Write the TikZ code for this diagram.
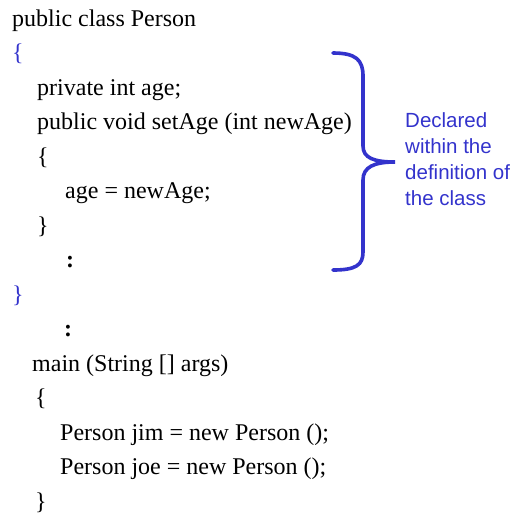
\documentclass[tikz,border=0pt]{standalone}
\usepackage{fontspec}
\setmainfont{Liberation Serif}
\newfontfamily\notefont{Liberation Sans}
\definecolor{declblue}{RGB}{51,51,204}
\begin{document}
\begin{tikzpicture}[x=1pt,y=-1pt,
  code/.style={anchor=base west,inner sep=0pt,font=\fontsize{24}{28}\selectfont},
  bluecode/.style={code,text=declblue},
  note/.style={anchor=base west,inner sep=0pt,text=declblue,
    font=\notefont\fontsize{20.5}{26}\selectfont,align=left}]
\useasboundingbox (0,0) rectangle (518,515);
% class body
\node[code]     (l1)  at (12,26)    {public class Person};
\node[bluecode] (l2)  at (12,60.5)  {\{};
\node[code]     (l3)  at (37,95)    {private int age;};
\node[code]     (l4)  at (37,129.5) {public void setAge (int newAge)};
\node[code]     (l5)  at (37,164)   {\{};
\node[code]     (l6)  at (65,198.5) {age = newAge;};
\node[code]     (l7)  at (37,233)   {\}};
\node[code]     (l8)  at (66,267.5) {\textbf{:}};
\node[bluecode] (l9)  at (12,302)   {\}};
% main method
\node[code]     (l10) at (64,336.5) {\textbf{:}};
\node[code]     (l11) at (32,371)   {main (String [] args)};
\node[code]     (l12) at (35,405.5) {\{};
\node[code]     (l13) at (60,440)   {Person jim = new Person ();};
\node[code]     (l14) at (60,474.5) {Person joe = new Person ();};
\node[code]     (l15) at (35,509)   {\}};
% brace and its note
\draw[declblue,line width=3.6pt,line cap=round]
  (333,53) .. controls (356,53) and (363,60) .. (363,76)
  -- (363,146) .. controls (363,158) and (374,162) .. (395,162)
  .. controls (374,162) and (363,167) .. (363,180)
  -- (363,252) .. controls (363,265) and (356,270) .. (333,270);
\node[note] (n1) at (405,127) {Declared};
\node[note] (n2) at (405,153) {within the};
\node[note] (n3) at (405,179) {definition of};
\node[note] (n4) at (405,205) {the class};
\end{tikzpicture}
\end{document}
